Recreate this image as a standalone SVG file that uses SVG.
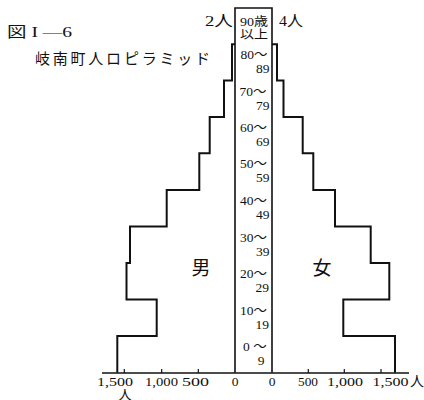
<svg xmlns="http://www.w3.org/2000/svg" width="424" height="400" viewBox="0 0 424 400">
<style>
  .t { font-family: "Liberation Serif", "Noto Sans CJK JP", serif; fill: #111; }
  .age { font-size: 13.5px; }
  .ax { font-size: 13.5px; }
  .ol { fill: none; stroke: #111; stroke-width: 2; stroke-linejoin: miter; }
  .col { fill: none; stroke: #111; stroke-width: 1.6; }
  .tk { stroke: #111; stroke-width: 1.2; }
</style>
<rect width="424" height="400" fill="#fff"/>

<g id="title">
  <text class="t" x="7" y="37" font-size="15" textLength="65" lengthAdjust="spacingAndGlyphs">図 I —6</text>
  <text class="t" x="35" y="64" font-size="15" textLength="175" lengthAdjust="spacing">岐南町人ロピラミッド</text>
</g>

<g id="male-bars">
  <path class="ol" d="M117.3,372.7 V336 H156.7 V299.5 H126.5 V263 H130 V226.5 H166.7 V190 H199.3 V153.3 H209.7 V117 H224 V80.6 H232 V44.3 H235"/>
  <text class="t" x="201" y="275" font-size="19" text-anchor="middle">男</text>
  <text class="t" x="205" y="25.5" font-size="15" textLength="28" lengthAdjust="spacingAndGlyphs">2人</text>
</g>

<g id="female-bars">
  <path class="ol" d="M395,372.7 V336 H343.3 V299.5 H389.3 V263 H370.7 V226.5 H335 V190 H313.3 V153.3 H302.7 V117 H283.5 V80.6 H277 V44.3 H272"/>
  <text class="t" x="322" y="275" font-size="19" text-anchor="middle">女</text>
  <text class="t" x="279" y="25.5" font-size="15" textLength="24" lengthAdjust="spacingAndGlyphs">4人</text>
</g>

<g id="age-column">
  <path class="col" d="M235,372.7 V8 H272 V372.7"/>
  <text class="t" x="240" y="25.5" font-size="12" textLength="28" lengthAdjust="spacingAndGlyphs">90歳</text>
  <text class="t" x="240" y="38.5" font-size="12" textLength="28" lengthAdjust="spacingAndGlyphs">以上</text>
  <text class="t age" x="240.5" y="59.3">80〜</text>
  <text class="t age" x="269.5" y="73.3" text-anchor="end">89</text>
  <text class="t age" x="239.5" y="95.6">70〜</text>
  <text class="t age" x="269.5" y="109.6" text-anchor="end">79</text>
  <text class="t age" x="240" y="132">60〜</text>
  <text class="t age" x="269.5" y="146" text-anchor="end">69</text>
  <text class="t age" x="240" y="168.3">50〜</text>
  <text class="t age" x="269.5" y="182.3" text-anchor="end">59</text>
  <text class="t age" x="240" y="205">40〜</text>
  <text class="t age" x="269.5" y="219" text-anchor="end">49</text>
  <text class="t age" x="240" y="241.5">30〜</text>
  <text class="t age" x="269.5" y="255.5" text-anchor="end">39</text>
  <text class="t age" x="240" y="278">20〜</text>
  <text class="t age" x="269" y="292" text-anchor="end">29</text>
  <text class="t age" x="240" y="314.5">10〜</text>
  <text class="t age" x="269" y="328.5" text-anchor="end">19</text>
  <text class="t age" x="243" y="351">0 〜</text>
  <text class="t age" x="264.5" y="365" text-anchor="end">9</text>
</g>

<g id="axis">
  <line class="col" x1="102" y1="373" x2="409" y2="373"/>
  <line class="tk" x1="124.3" y1="373" x2="124.3" y2="369"/>
  <line class="tk" x1="161.7" y1="373" x2="161.7" y2="369"/>
  <line class="tk" x1="198.3" y1="373" x2="198.3" y2="369"/>
  <line class="tk" x1="308.3" y1="373" x2="308.3" y2="369"/>
  <line class="tk" x1="344.3" y1="373" x2="344.3" y2="369"/>
  <line class="tk" x1="381" y1="373" x2="381" y2="369"/>
  <text class="t ax" x="97" y="385.5" textLength="36" lengthAdjust="spacingAndGlyphs">1,500</text>
  <text class="t" x="125" y="398.5" font-size="13" text-anchor="middle">人</text>
  <text class="t ax" x="145" y="385.5" textLength="33" lengthAdjust="spacingAndGlyphs">1,000</text>
  <text class="t ax" x="182" y="385.5" textLength="27" lengthAdjust="spacingAndGlyphs">500</text>
  <text class="t ax" x="235" y="385.5" text-anchor="middle">0</text>
  <text class="t ax" x="272" y="385.5" text-anchor="middle">0</text>
  <text class="t ax" x="298" y="385.5" textLength="20" lengthAdjust="spacingAndGlyphs">500</text>
  <text class="t ax" x="327" y="385.5" textLength="36" lengthAdjust="spacingAndGlyphs">1,000</text>
  <text class="t ax" x="372.5" y="385.5" textLength="36" lengthAdjust="spacingAndGlyphs">1,500</text>
  <text class="t" x="410" y="385.5" font-size="14">人</text>
</g>
</svg>
